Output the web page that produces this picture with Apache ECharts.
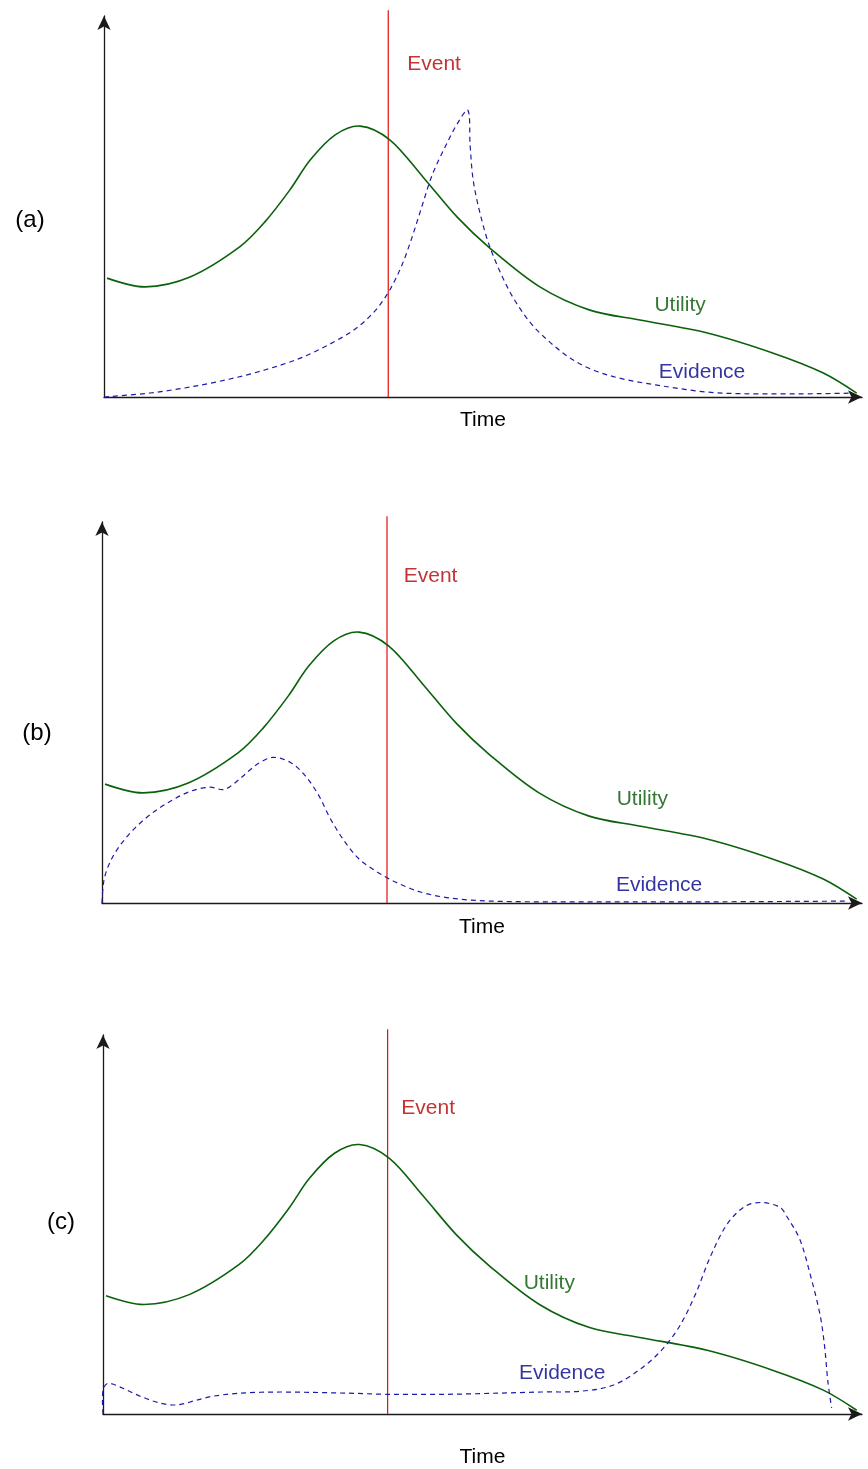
<!DOCTYPE html>
<html>
<head>
<meta charset="utf-8">
<script src="https://cdn.jsdelivr.net/npm/echarts@6/dist/echarts.min.js"></script>
<style>
  html, body { margin: 0; padding: 0; background: #fff; }
  #chart { width: 868px; height: 1469px; }
</style>
</head>
<body>
<div id="chart"></div>
<script>
// Panel captions
const panelNames = ['(a)', '(b)', '(c)'];

// Time at which the event happens (same in all panels)
const eventTime = 37.5;
const eventTop = 101.5;

// Utility over time (shared by the three scenarios), [time, level]
const utility = [
  [0.4, 31.2], [5.4, 28.9], [11.35, 31.5], [17.9, 39.4], [21.2, 45.9], [24.5, 54.3],
  [27.2, 62.2], [30.5, 68.8], [33.8, 71.1], [37.7, 67.5], [42.1, 57.7], [46.6, 47.2],
  [50.9, 39.1], [57.5, 28.9], [64.1, 22.8], [70.7, 20.2], [79.6, 16.8], [88.3, 11.5],
  [94.9, 6.3], [99.3, 1.0]
];

// Evidence, scenario (a): builds up and peaks after the event
const evidenceA = [
  [0, 0], [6.07, 1.05], [11.35, 2.62], [16.6, 4.72], [21.2, 7.09], [25.9, 10.2],
  [29.8, 13.9], [33.1, 17.8], [35.75, 22.6], [37.7, 28.1], [39.3, 34.6], [40.6, 41.7],
  [42.0, 50.4], [43.3, 58.3], [45.0, 65.6], [46.6, 71.7], [48.0, 75.3],
  [48.3, 66.1], [48.7, 57.0], [49.6, 48.3], [50.9, 39.4], [53.2, 28.9], [55.3, 22.0],
  [57.5, 16.8], [61.9, 9.7], [66.4, 5.8], [73.0, 3.1], [81.7, 1.0], [98.4, 1.0]
];

// Evidence, scenario (b): peaks before the event
const evidenceB = [
  [0, 0], [0.26, 6.0], [1.05, 10.7], [2.4, 15.2], [4.3, 19.6], [6.6, 23.6], [9.0, 26.7],
  [11.6, 29.3], [14.2, 30.4], [16.1, 29.8], [18.2, 32.7], [20.4, 36.4], [22.5, 38.2],
  [24.8, 36.9], [26.7, 33.5], [28.5, 28.3], [30.0, 22.3], [31.8, 16.5], [33.7, 11.8],
  [36.0, 8.4], [38.6, 5.5], [41.9, 2.9], [45.8, 1.3], [51.1, 0.5], [60.3, 0.3],
  [78.8, 0.3], [98.3, 0.5]
];

// Evidence, scenario (c): stays low and peaks long after the event
const evidenceC = [
  [0, 0], [0, 6.3], [0.66, 8.1], [2.6, 6.8], [4.9, 4.7], [7.5, 2.9], [9.8, 2.4],
  [12.4, 3.7], [14.5, 4.7], [18.1, 5.5], [23.4, 5.8], [32.2, 5.5], [37.5, 5.2],
  [45.4, 5.2], [52.0, 5.5], [57.7, 5.8], [62.9, 6.0], [67.2, 7.6], [70.9, 12.0],
  [73.8, 17.3], [76.0, 23.3], [78.1, 31.8], [80.0, 41.4], [82.2, 50.0], [84.6, 54.8],
  [86.8, 55.8], [89.2, 54.5], [90.1, 52.1], [91.8, 46.1], [93.1, 37.4], [94.5, 25.9],
  [95.1, 17.3], [95.5, 8.6], [96.0, 1.6]
];
const evidenceSets = [evidenceA, evidenceB, evidenceC];

// Where the curve names sit, in [time, level]
const eventLabelAt = [[40.0, 87.4], [39.7, 85.9], [39.3, 80.6]];
const utilityLabelAt = [[76.0, 24.1], [71.1, 27.2], [58.8, 34.6]];
const evidenceLabelAt = [[78.9, 6.5], [73.3, 4.7], [60.5, 10.7]];

const FONT = "'Liberation Sans', Arial, Helvetica, sans-serif";
const GREEN = '#0b610b';
const BLUE = '#1c1ca8';
const RED = '#e01010';

const grids = [
  { left: 104, top: 16, right: 6, height: 381 },
  { left: 102, top: 522, right: 6, height: 381 },
  { left: 103, top: 1035, right: 6, height: 381 }
];
const timeGaps = [13, 14, 33];
const captionPos = [[30, 220], [37, 733], [61, 1222]];

const axisLine = {
  show: true,
  onZero: false,
  symbol: ['none', 'arrow'],
  symbolSize: [10, 14],
  lineStyle: { color: '#1a1a1a', width: 1.3 }
};

const xAxes = grids.map((g, i) => ({
  type: 'value', gridIndex: i, min: 0, max: 100,
  axisLine, axisTick: { show: false }, axisLabel: { show: false }, splitLine: { show: false },
  name: 'Time', nameLocation: 'middle', nameGap: timeGaps[i],
  nameTextStyle: { color: '#000', fontSize: 21, fontFamily: FONT }
}));
const yAxes = grids.map((g, i) => ({
  type: 'value', gridIndex: i, min: 0, max: 100,
  axisLine, axisTick: { show: false }, axisLabel: { show: false }, splitLine: { show: false }
}));

// A smooth curve through the series' own points, mapped by the grid's axes.
function curveSeries(name, data, axisIdx, lineStyle) {
  return {
    name, type: 'custom', xAxisIndex: axisIdx, yAxisIndex: axisIdx,
    data, silent: true, clip: false, z: 3,
    encode: { x: 0, y: 1 },
    renderItem(params, api) {
      if (params.dataIndex !== 0) return null;
      const pts = data.map(p => api.coord(p));
      return {
        type: 'polyline',
        shape: { points: pts, smooth: 0.33 },
        style: Object.assign({ fill: null, lineJoin: 'round', lineCap: 'butt' }, lineStyle)
      };
    }
  };
}

function textPoint(pos, text, color, align) {
  return {
    value: pos,
    label: {
      show: true, position: 'inside', formatter: text, color,
      fontSize: 21, fontFamily: FONT, align: align || 'center', verticalAlign: 'middle'
    }
  };
}

const series = [];
grids.forEach((g, i) => {
  series.push({
    name: 'Event', type: 'line', xAxisIndex: i, yAxisIndex: i,
    data: [[eventTime, 0], [eventTime, eventTop]],
    showSymbol: false, symbol: 'none', clip: false, silent: true,
    lineStyle: { color: RED, width: 1.2 }, z: 2
  });
  series.push(curveSeries('Utility', utility, i, { stroke: GREEN, lineWidth: 1.6 }));
  series.push(curveSeries('Evidence', evidenceSets[i], i,
    { stroke: BLUE, lineWidth: 1.2, lineDash: [5, 4] }));
  series.push({
    name: 'labels', type: 'scatter', xAxisIndex: i, yAxisIndex: i,
    symbolSize: 0.01, silent: true, clip: false, z: 5,
    data: [
      textPoint(eventLabelAt[i], 'Event', '#b30000', 'left'),
      textPoint(utilityLabelAt[i], 'Utility', '#005500'),
      textPoint(evidenceLabelAt[i], 'Evidence', '#00008a')
    ]
  });
});

const chart = echarts.init(document.getElementById('chart'), null, { renderer: 'canvas' });
chart.setOption({
  animation: false,
  backgroundColor: '#fff',
  grid: grids,
  xAxis: xAxes,
  yAxis: yAxes,
  series,
  graphic: panelNames.map((t, i) => ({
    type: 'text', x: captionPos[i][0], y: captionPos[i][1], silent: true,
    style: { text: t, fill: '#000', fontSize: 24, fontFamily: FONT, align: 'center', verticalAlign: 'middle' }
  }))
});
</script>
</body>
</html>
